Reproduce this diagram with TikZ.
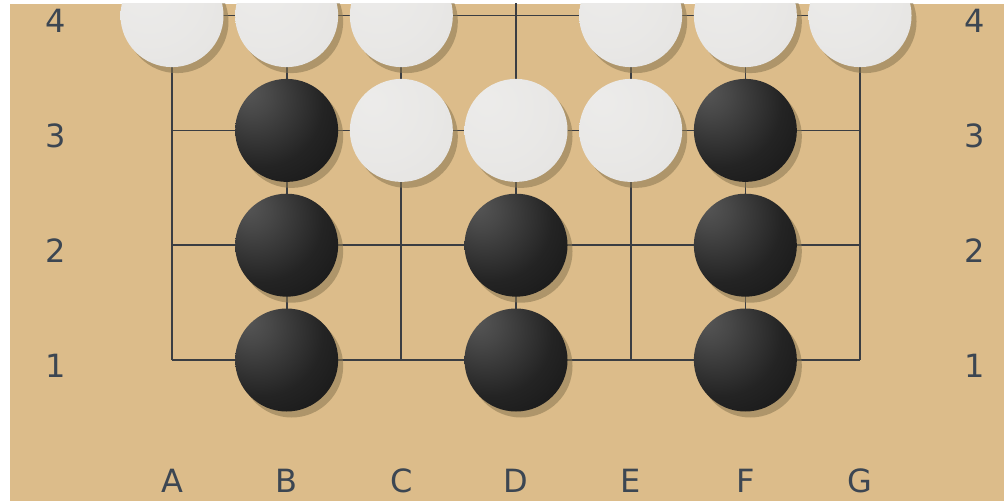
\documentclass[tikz,border=0pt]{standalone}
\usepackage{fontspec}
\setsansfont{DejaVu Sans}
\definecolor{wood}{HTML}{DCBC8A}
\definecolor{gridc}{HTML}{3A3D42}
\definecolor{labelc}{HTML}{3C4652}
\definecolor{shadowc}{HTML}{8A7650}
\definecolor{stonegray}{HTML}{A29E97}
\pgfdeclareradialshading{blackstone}{\pgfpoint{-20bp}{20bp}}{%
  color(0bp)=(black!66); color(10bp)=(black!72); color(30bp)=(black!86);
  color(55bp)=(black!94); color(80bp)=(black!98)}
\pgfdeclareradialshading{whitestone}{\pgfpoint{-15bp}{15bp}}{%
  color(0bp)=(white!80!stonegray); color(25bp)=(white!76!stonegray); color(50bp)=(white!70!stonegray);
  color(70bp)=(white!64!stonegray); color(80bp)=(white!60!stonegray)}
\tikzset{
  stonebase/.style={circle, inner sep=0pt, minimum size=103pt},
  blackstn/.style={stonebase, shade, shading=blackstone},
  whitestn/.style={stonebase, shade, shading=whitestone},
  shadowstn/.style={stonebase, fill=shadowc, fill opacity=0.55},
  gridline/.style={draw=gridc, line width=1.7pt},
  coordlabel/.style={font=\sffamily\fontsize{32}{32}\selectfont, text=labelc, inner sep=0pt}
}
\begin{document}
\begin{tikzpicture}[x=1pt,y=-1pt]
\useasboundingbox (0,0) rectangle (1004,503);
\fill[white] (0,0) rectangle (1004,503);
\fill[wood] (10,4) rectangle (1004,501);
\begin{scope}
\clip (10,4) rectangle (1004,501);
% grid points
\foreach \c [count=\i from 0] in {A,B,C,D,E,F,G}{
  \foreach \r in {1,2,3,4,5}{
    \coordinate (\c\r) at ({172+114.67*\i},{360-114.8*(\r-1)});
  }
}
% grid lines
\foreach \c in {A,B,C,D,E,F,G}{ \draw[gridline] (\c1) -- (\c5); }
\foreach \r in {1,2,3,4}{ \draw[gridline] (A\r) -- (G\r); }
% stones
\foreach \p in {A4,B4,C4,E4,F4,G4,C3,D3,E3,B3,F3,B2,D2,F2,B1,D1,F1}{
  \node[shadowstn] (sh\p) at ([shift={(5,6)}]\p) {};
}
\foreach \p in {A4,B4,C4,E4,F4,G4,C3,D3,E3}{
  \node[whitestn] (w\p) at (\p) {};
}
\foreach \p in {B3,F3,B2,D2,F2,B1,D1,F1}{
  \node[blackstn] (b\p) at (\p) {};
}
\end{scope}
% labels
\foreach \r in {1,2,3,4}{
  \node[coordlabel, anchor=base] (L\r) at ({56},{360-114.8*(\r-1)+17}) {\r};
  \node[coordlabel, anchor=base] (R\r) at ({975},{360-114.8*(\r-1)+17}) {\r};
}
\foreach \c [count=\i from 0] in {A,B,C,D,E,F,G}{
  \node[coordlabel, anchor=base] (T\c) at ({172+114.67*\i},492) {\c};
}
\end{tikzpicture}
\end{document}
